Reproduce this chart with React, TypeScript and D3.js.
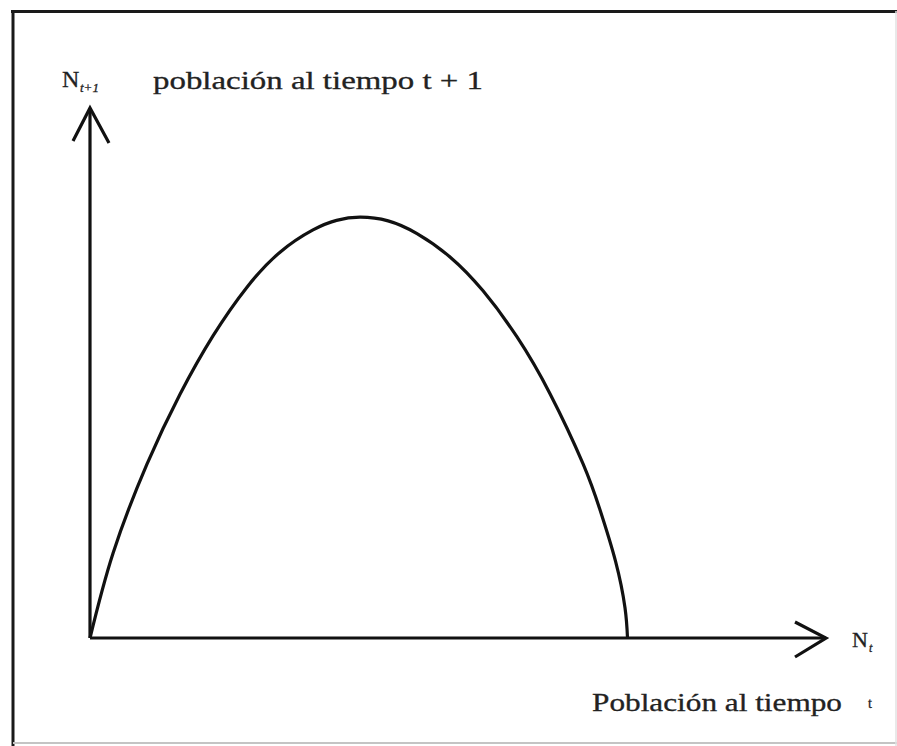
import React from "react";
import * as d3 from "d3";

// Population at time t (x) and t+1 (y), in arbitrary units
const popT = [0, 3.13, 7.74, 12.23, 16.71, 21.33, 25.82, 30.3, 33.5, 36.68, 40.5, 44.43, 48.91, 53.4, 58.02, 62.5, 66.98, 69.29, 71.4, 72.69, 73.03];
const popT1 = [0, 16.0, 32.8, 46.0, 57.0, 66.2, 72.8, 77.0, 78.8, 79.4, 78.7, 76.3, 71.9, 65.5, 56.8, 46.1, 32.9, 24.2, 14.5, 5.7, 0];

const yLabelMain = "N";
const yLabelSub = "t+1";
const yLabelText = "población al tiempo t + 1";
const xLabelMain = "N";
const xLabelSub = "t";
const xLabelText = "Población al tiempo";
const xLabelT = "t";

const W = 897;
const H = 746;

export default function App() {
  const x = d3.scaleLinear().domain([0, 100]).range([90, 826]);
  const y = d3.scaleLinear().domain([0, 100]).range([638, 108]);

  const pts: [number, number][] = popT.map((v, i) => [v, popT1[i]]);
  const line = d3
    .line<[number, number]>()
    .x((d) => x(d[0]))
    .y((d) => y(d[1]))
    .curve(d3.curveNatural);

  const x0 = x(0);
  const y0 = y(0);
  const xEnd = x(100);
  const yEnd = y(100);
  const font = "'Liberation Serif', 'Times New Roman', serif";

  return (
    <svg
      width={W}
      height={H}
      style={{ position: "absolute", left: 0, top: 0, background: "#fff" }}
    >
      <rect x={0} y={0} width={W} height={H} fill="#fff" />
      {/* frame */}
      <line x1={11} y1={11.5} x2={W} y2={11.5} stroke="#1a1a1a" strokeWidth={3} />
      <line x1={13} y1={10} x2={13} y2={H} stroke="#1a1a1a" strokeWidth={3} />
      <line x1={13} y1={H - 3} x2={W} y2={H - 3} stroke="#c4c4c4" strokeWidth={2} />
      <line x1={W - 1} y1={11} x2={W - 1} y2={H} stroke="#e2e2e2" strokeWidth={1.5} />

      {/* axes */}
      <line x1={x0} y1={y0} x2={x0} y2={yEnd} stroke="#111" strokeWidth={3.2} />
      <line x1={x0} y1={y0} x2={xEnd} y2={y0} stroke="#111" strokeWidth={3.2} />
      {/* arrow heads */}
      <polyline
        points={`${x0 - 17},${yEnd + 33} ${x0},${yEnd} ${x0 + 19},${yEnd + 35}`}
        fill="none"
        stroke="#111"
        strokeWidth={3.2}
        strokeLinejoin="miter"
      />
      <polyline
        points={`${xEnd - 31},${y0 - 16} ${xEnd},${y0} ${xEnd - 31},${y0 + 19}`}
        fill="none"
        stroke="#111"
        strokeWidth={3.2}
        strokeLinejoin="miter"
      />

      {/* curve */}
      <path d={line(pts) || ""} fill="none" stroke="#111" strokeWidth={3.2} />

      {/* labels */}
      <g fill="#222" fontFamily={font} stroke="#222" strokeWidth={0.3}>
        <text x={62} y={87} fontSize={24}>
          {yLabelMain}
        </text>
        <text x={80} y={92} fontSize={13} fontStyle="italic">
          {yLabelSub}
        </text>
        <text x={153} y={89} fontSize={25} textLength={330} lengthAdjust="spacingAndGlyphs">
          {yLabelText}
        </text>
        <text x={852} y={647} fontSize={22}>
          {xLabelMain}
        </text>
        <text x={869} y={652} fontSize={12} fontStyle="italic">
          {xLabelSub}
        </text>
        <text x={592} y={711} fontSize={25} textLength={250} lengthAdjust="spacingAndGlyphs">
          {xLabelText}
        </text>
        <text x={868} y={708} fontSize={14}>
          {xLabelT}
        </text>
      </g>
    </svg>
  );
}
